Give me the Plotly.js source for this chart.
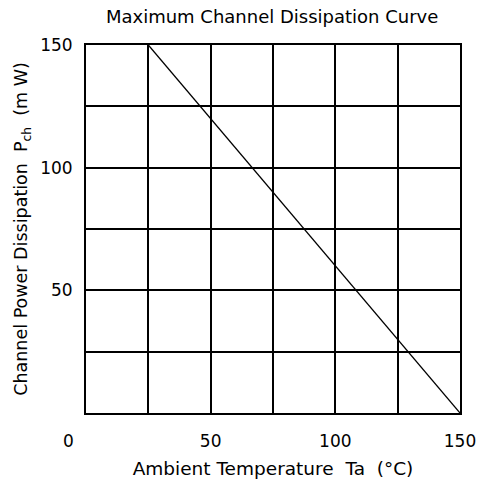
<!DOCTYPE html>
<html>
<head>
<meta charset="utf-8">
<script src="https://cdn.plot.ly/plotly-3.0.1.min.js"></script>
<style>html,body{margin:0;padding:0;background:#fff;}</style>
</head>
<body>
<div id="chart" style="width:480px;height:488px;"></div>
<script>
// Data
var temperature = [25, 150];       // Ambient temperature Ta (°C)
var channelPower = [150, 0];       // Max channel power dissipation Pch (mW)

var xTickVals = [50, 100, 150];
var xTickText = ['50', '100', '150'];
var yTickVals = [50, 100, 150];
var yTickText = ['50', '100', '150'];
var originLabel = '0';

var FONT = 'DejaVu Sans, Verdana, sans-serif';

var trace = {
  x: temperature,
  y: channelPower,
  mode: 'lines',
  line: {color: '#000', width: 1.3},
  hoverinfo: 'skip',
  showlegend: false
};

var axisCommon = {
  showgrid: true,
  gridcolor: '#000',
  gridwidth: 2,
  showline: true,
  linecolor: '#000',
  linewidth: 2,
  mirror: true,
  zeroline: false,
  ticks: '',
  tickmode: 'array',
  tickfont: {family: FONT, size: 17, color: '#000'},
  minor: {tick0: 0, dtick: 25, showgrid: true, gridcolor: '#000', gridwidth: 2, ticks: ''},
  fixedrange: true
};

var layout = {
  width: 480,
  height: 488,
  margin: {l: 86, r: 20, t: 45, b: 75},
  paper_bgcolor: '#fff',
  plot_bgcolor: '#fff',
  title: {
    text: 'Maximum Channel Dissipation Curve',
    font: {family: FONT, size: 18, color: '#000'},
    x: 0.567, xanchor: 'center',
    y: 0.965, yanchor: 'middle'
  },
  xaxis: Object.assign({}, axisCommon, {
    range: [0, 150],
    tickvals: xTickVals,
    ticktext: xTickText,
    ticklabelstandoff: 12,
    title: {text: 'Ambient Temperature  Ta  (°C)', font: {family: FONT, size: 18.5, color: '#000'}, standoff: 12}
  }),
  yaxis: Object.assign({}, axisCommon, {
    range: [0, 150],
    tickvals: yTickVals,
    ticktext: yTickText,
    ticklabelstandoff: 8,
    title: {text: 'Channel Power Dissipation  P<sub>ch</sub>  (m W)', font: {family: FONT, size: 17.5, color: '#000'}, standoff: 8}
  }),
  annotations: [{
    text: originLabel,
    xref: 'x', x: 0, xshift: -18,
    yref: 'paper', y: 0, yanchor: 'top', yshift: -16,
    showarrow: false,
    font: {family: FONT, size: 17, color: '#000'}
  }]
};

Plotly.newPlot('chart', [trace], layout, {displayModeBar: false, staticPlot: true});
</script>
</body>
</html>
